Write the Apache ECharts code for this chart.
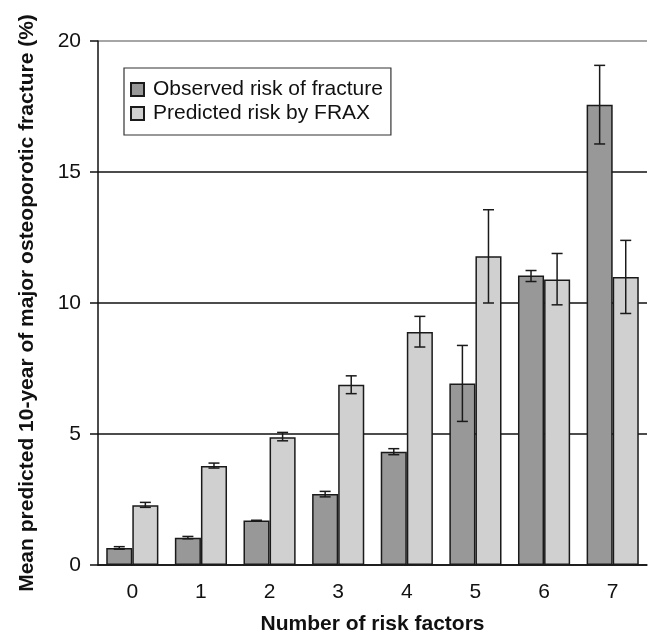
<!DOCTYPE html>
<html>
<head>
<meta charset="utf-8">
<script src="https://cdn.jsdelivr.net/npm/echarts@6/dist/echarts.min.js"></script>
<style>
  html, body { margin: 0; padding: 0; background: #fff; }
  #chart { width: 650px; height: 634px; }
</style>
</head>
<body>
<div id="chart"></div>
<script>
// number of risk factors
var categories = ['0', '1', '2', '3', '4', '5', '6', '7'];

// observed risk of fracture (%) and its error bar ends
var observed = [0.65, 1.04, 1.70, 2.71, 4.32, 6.93, 11.05, 17.57];
var observedLow = [0.60, 1.00, 1.70, 2.60, 4.21, 5.48, 10.82, 16.07];
var observedHigh = [0.70, 1.09, 1.70, 2.81, 4.44, 8.38, 11.24, 19.07];

// predicted risk by FRAX (%) and its error bar ends
var predicted = [2.28, 3.78, 4.88, 6.88, 8.89, 11.78, 10.90, 10.99];
var predictedLow = [2.20, 3.70, 4.74, 6.54, 8.32, 10.00, 9.93, 9.60];
var predictedHigh = [2.39, 3.89, 5.06, 7.22, 9.49, 13.56, 11.89, 12.39];

var font = 'Liberation Sans, Arial, sans-serif';

// draws one error bar, shifted left or right of the category centre
function errorBar(side) {
  return function (params, api) {
    var idx = api.value(0);
    var lo = api.coord([idx, api.value(1)]);
    var hi = api.coord([idx, api.value(2)]);
    var band = api.size([1, 0])[0];
    var x = lo[0] + side * band * 0.19;
    var half = 5.5;
    var style = { stroke: '#1a1a1a', lineWidth: 1.5 };
    return {
      type: 'group',
      children: [
        { type: 'line', shape: { x1: x, y1: hi[1], x2: x, y2: lo[1] }, style: style },
        { type: 'line', shape: { x1: x - half, y1: hi[1], x2: x + half, y2: hi[1] }, style: style },
        { type: 'line', shape: { x1: x - half, y1: lo[1], x2: x + half, y2: lo[1] }, style: style }
      ]
    };
  };
}

var obsErr = categories.map(function (c, i) { return [i, observedLow[i], observedHigh[i]]; });
var predErr = categories.map(function (c, i) { return [i, predictedLow[i], predictedHigh[i]]; });

var option = {
  animation: false,
  textStyle: { fontFamily: font },
  grid: { left: 98, top: 41, right: 3, bottom: 69, outerBoundsMode: 'none' },
  legend: {
    orient: 'vertical',
    left: 124,
    top: 68,
    padding: [11, 8, 11, 6],
    itemGap: 3,
    itemWidth: 13,
    itemHeight: 13,
    icon: 'rect',
    borderColor: '#333',
    borderWidth: 1.2,
    textStyle: { fontSize: 21, color: '#111', fontFamily: font, padding: [0, 0, 0, 4] },
    data: ['Observed risk of fracture', 'Predicted risk by FRAX']
  },
  xAxis: {
    type: 'category',
    data: categories,
    name: 'Number of risk factors',
    nameLocation: 'middle',
    nameGap: 49,
    nameTextStyle: { fontSize: 21, fontWeight: 'bold', color: '#111' },
    axisLine: { lineStyle: { color: '#111', width: 1.5 } },
    axisTick: { length: 9, lineStyle: { color: '#111', width: 1.5 } },
    axisLabel: { fontSize: 21, color: '#111', margin: 17 }
  },
  yAxis: {
    type: 'value',
    min: 0,
    max: 20,
    interval: 5,
    name: 'Mean predicted 10-year of major osteoporotic fracture (%)',
    nameLocation: 'middle',
    nameGap: 60,
    nameTextStyle: { fontSize: 21, fontWeight: 'bold', color: '#111' },
    axisLine: { show: true, lineStyle: { color: '#111', width: 1.5 } },
    axisTick: { show: true, length: 8, lineStyle: { color: '#111', width: 1.5 } },
    axisLabel: { fontSize: 21, color: '#111', margin: 17 },
    splitLine: { lineStyle: { color: ['#111', '#111', '#111', '#111', '#888'], width: 1.5 } }
  },
  series: [
    {
      name: 'Observed risk of fracture',
      type: 'bar',
      data: observed,
      barWidth: '38%',
      barGap: '0%',
      itemStyle: { color: '#989898', borderColor: '#1a1a1a', borderWidth: 1.5 }
    },
    {
      name: 'Predicted risk by FRAX',
      type: 'bar',
      data: predicted,
      barWidth: '38%',
      barGap: '0%',
      itemStyle: { color: '#d0d0d0', borderColor: '#1a1a1a', borderWidth: 1.5 }
    },
    {
      type: 'custom',
      renderItem: errorBar(-1),
      data: obsErr,
      encode: { x: 0, y: [1, 2] },
      z: 5
    },
    {
      type: 'custom',
      renderItem: errorBar(1),
      data: predErr,
      encode: { x: 0, y: [1, 2] },
      z: 5
    }
  ]
};

echarts.init(document.getElementById('chart')).setOption(option);
</script>
</body>
</html>
